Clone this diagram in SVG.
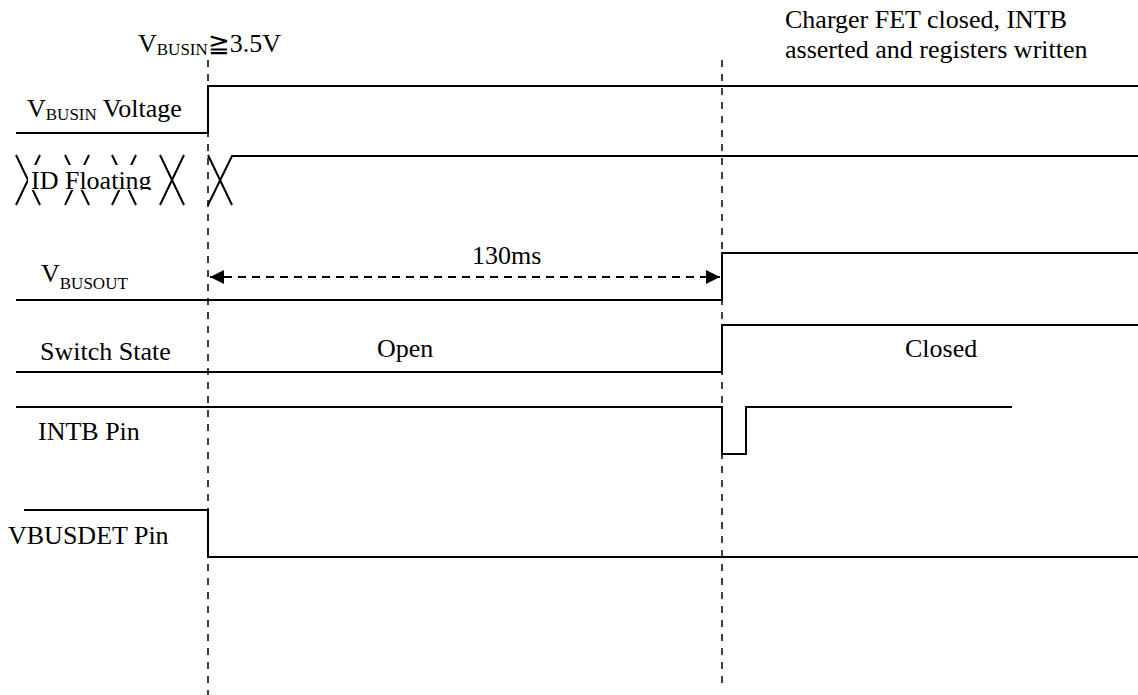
<svg xmlns="http://www.w3.org/2000/svg" width="1138" height="695" viewBox="0 0 1138 695">
<defs>
<style>
text{font-family:"Liberation Serif","Times New Roman",serif;font-size:26px;fill:#000}
.sub{font-size:17px}
.sig{fill:none;stroke:#000;stroke-width:2}
.dash{fill:none;stroke:#000;stroke-width:1.5;stroke-dasharray:7 7}
.arr{fill:none;stroke:#000;stroke-width:2;stroke-dasharray:8 6}
</style>
<marker id="ah" viewBox="0 0 10 10" refX="10" refY="5" markerWidth="20" markerHeight="14" markerUnits="userSpaceOnUse" orient="auto-start-reverse">
<path d="M0,0 L10,5 L0,10 Z" fill="#000"/>
</marker>
<clipPath id="idclip"><rect x="0" y="150" width="200" height="40"/></clipPath>
</defs>
<rect width="1138" height="695" fill="#fff"/>

<g id="markers">
<line class="dash" x1="208" y1="60" x2="208" y2="695"/>
<line class="dash" x1="722" y1="60" x2="722" y2="688"/>
<text x="138" y="52">V<tspan class="sub" dy="3">BUSIN</tspan><tspan dy="-3">≧3.5V</tspan></text>
<text x="785" y="28">Charger FET closed, INTB</text>
<text x="785" y="58">asserted and registers written</text>
</g>

<g id="vbusin">
<path class="sig" d="M16,133 H208 V86 H1138"/>
<text x="27" y="117">V<tspan class="sub" dy="3">BUSIN</tspan><tspan dy="-3"> Voltage</tspan></text>
</g>

<g id="id-floating">
<path class="sig" d="M16,155 L40,205 M16,205 L40,155 M65,155 L89,205 M65,205 L89,155 M112,155 L136,205 M112,205 L136,155 M160,155 L184,205 M160,205 L184,155 M208,155 L232,205 M208,205 L232,156 H1138"/>
<rect x="28" y="165" width="129" height="25" fill="#fff"/>
<text x="31" y="189" clip-path="url(#idclip)">ID Floating</text>
</g>

<g id="vbusout">
<path class="sig" d="M16,300 H722 V253 H1138"/>
<text x="41" y="282">V<tspan class="sub" dy="7">BUSOUT</tspan></text>
</g>

<g id="switch-state">
<path class="sig" d="M16,372 H722 V325 H1138"/>
<text x="40" y="360">Switch State</text>
<text x="377" y="357">Open</text>
<text x="905" y="357">Closed</text>
</g>

<g id="intb">
<path class="sig" d="M16,407 H722 V454 H746 V407 H1012"/>
<text x="38" y="440">INTB Pin</text>
</g>

<g id="vbusdet">
<path class="sig" d="M24,510 H208 V557 H1138"/>
<text x="8" y="544">VBUSDET Pin</text>
</g>

<g id="connectors">
<line class="arr" x1="210" y1="277" x2="720" y2="277" marker-start="url(#ah)" marker-end="url(#ah)"/>
<text x="472" y="264">130ms</text>
</g>
</svg>
